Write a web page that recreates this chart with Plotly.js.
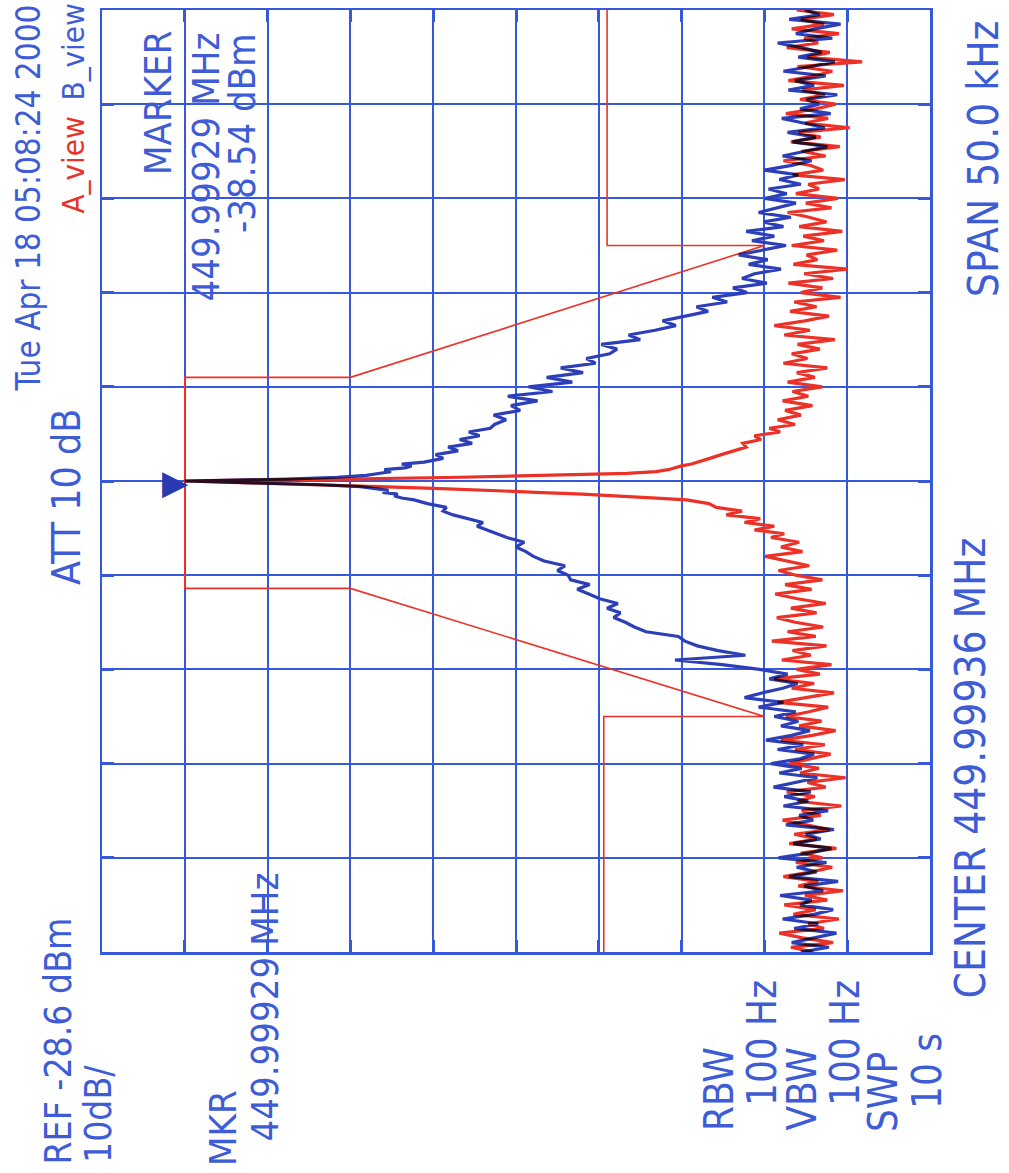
<!DOCTYPE html>
<html><head><meta charset="utf-8">
<script src="https://cdn.plot.ly/plotly-3.0.1.min.js"></script>
<style>
html,body{margin:0;padding:0;background:#fff;}
#chart{width:1009px;height:1173px;}
#chart .scatterlayer .trace:last-child path.js-line{mix-blend-mode:multiply;}
</style></head><body><div id="chart"></div>
<script>
// ---- instrument settings ----
const refLevelDbm = -28.6;
const dbPerDiv = 10;
const centerMHz = 449.99936;
const spanKHz = 50.0;
const markerFreqMHz = 449.99929;
const markerAmpDbm = -38.54;

// ---- sweep frequencies (offset from center, kHz) ----
const freqKHz = [
-25.00,-24.75,-24.50,-24.25,-24.00,-23.75,-23.50,-23.25,-23.00,-22.75,
-22.50,-22.25,-22.00,-21.75,-21.50,-21.25,-21.00,-20.75,-20.50,-20.25,
-20.00,-19.75,-19.50,-19.25,-19.00,-18.75,-18.50,-18.25,-18.00,-17.75,
-17.50,-17.25,-17.00,-16.75,-16.50,-16.25,-16.00,-15.75,-15.50,-15.25,
-15.00,-14.75,-14.50,-14.25,-14.00,-13.75,-13.50,-13.25,-13.00,-12.75,
-12.50,-12.25,-12.00,-11.75,-11.50,-11.25,-11.00,-10.75,-10.50,-10.25,
-10.00,-9.75,-9.50,-9.25,-9.00,-8.75,-8.50,-8.25,-8.00,-7.75,
-7.50,-7.25,-7.00,-6.75,-6.50,-6.25,-6.00,-5.75,-5.50,-5.25,
-5.00,-4.75,-4.50,-4.25,-4.00,-3.75,-3.50,-3.25,-3.00,
-2.8,-2.6,-2.4,-2.2,-2.0,-1.8,-1.6,-1.4,-1.2,-1.0,
-0.9,-0.8,-0.7,-0.6,-0.5,-0.4,-0.3,-0.2,-0.1,-0.05,
0,
0.05,0.1,0.2,0.3,0.4,0.5,0.6,0.7,0.8,0.9,
1.0,1.2,1.4,1.6,1.8,2.0,2.2,2.4,2.6,2.8,
3.00,3.25,3.50,3.75,4.00,4.25,4.50,4.75,5.00,5.25,
5.50,5.75,6.00,6.25,6.50,6.75,7.00,7.25,7.50,7.75,
8.00,8.25,8.50,8.75,9.00,9.25,9.50,9.75,10.00,10.25,
10.50,10.75,11.00,11.25,11.50,11.75,12.00,12.25,12.50,12.75,
13.00,13.25,13.50,13.75,14.00,14.25,14.50,14.75,15.00,15.25,
15.50,15.75,16.00,16.25,16.50,16.75,17.00,17.25,17.50,17.75,
18.00,18.25,18.50,18.75,19.00,19.25,19.50,19.75,20.00,20.25,
20.50,20.75,21.00,21.25,21.50,21.75,22.00,22.25,22.50,22.75,
23.00,23.25,23.50,23.75,24.00,24.25,24.50,24.75,25.00
];

// ---- A_view trace (red), dBm ----
const aViewDbm = [
-114.5,-111.8,-116.9,-113.2,-110.4,-115.8,-113.9,-117.6,-112.1,-114.8,
-111.0,-116.2,-113.5,-118.1,-112.7,-115.1,-110.9,-114.3,-116.8,-112.4,
-115.6,-113.0,-117.3,-111.6,-114.9,-112.2,-116.5,-113.7,-110.8,-115.4,
-113.1,-117.9,-112.6,-114.7,-111.3,-116.0,-113.8,-118.4,-112.9,-115.2,
-111.7,-114.1,-116.6,-112.3,-115.9,-110.6,-114.4,-117.2,-112.8,-115.5,
-111.2,-114.0,-116.3,-110.2,-113.6,-117.0,-111.9,-114.6,-109.8,-115.3,
-112.5,-116.7,-110.7,-114.2,-112.0,-116.1,-109.5,-114.8,-111.4,-115.7,
-112.3,-110.1,-114.9,-111.8,-116.0,-112.6,-109.9,-114.3,-111.1,-115.6,
-112.4,-110.3,-114.0,-111.5,-108.7,-113.2,-110.6,-112.8,-109.4,
-111.0,-107.4,-109.8,-106.2,-108.1,-104.0,-105.9,-102.8,-101.9,-99.2,
-95.0,-91.0,-86.6,-81.0,-76.0,-69.6,-62.0,-54.0,-46.0,-42.0,
-38.6,
-45.0,-58.0,-72.0,-84.0,-92.0,-95.5,-97.0,-97.8,-98.6,-99.8,
-100.6,-102.0,-103.4,-104.8,-106.4,-106.0,-108.2,-107.4,-110.5,-109.2,
-112.3,-110.2,-113.0,-111.1,-114.4,-110.8,-113.9,-112.0,-115.6,-111.4,
-114.7,-112.5,-116.2,-110.9,-113.8,-111.9,-115.3,-112.6,-117.1,-111.0,
-114.1,-109.8,-113.5,-116.4,-111.7,-114.9,-112.2,-117.8,-113.0,-115.6,
-111.5,-116.9,-113.4,-118.6,-112.1,-115.0,-113.7,-117.4,-111.9,-115.8,
-113.3,-118.0,-112.8,-116.1,-114.0,-111.4,-116.7,-113.6,-117.5,-112.4,
-115.2,-113.9,-118.3,-112.0,-115.7,-114.2,-110.9,-116.0,-113.1,-117.7,
-111.8,-115.4,-112.7,-118.9,-113.5,-116.3,-111.2,-114.8,-117.2,-112.9,
-115.9,-113.2,-118.2,-111.5,-114.6,-116.8,-112.6,-120.4,-113.8,-116.5,
-111.3,-115.1,-113.4,-117.6,-111.9,-115.8,-113.0,-117.0,-112.5
];

// ---- B_view trace (blue), dBm ----
const bViewDbm = [
-113.0,-116.4,-111.9,-114.8,-117.3,-112.2,-115.1,-110.8,-114.6,-116.9,
-112.9,-114.3,-110.5,-115.7,-113.4,-117.5,-111.6,-114.9,-112.5,-116.1,
-110.3,-114.0,-116.7,-112.1,-115.4,-113.6,-117.0,-111.2,-114.5,-112.8,
-116.3,-110.9,-113.9,-111.0,-114.2,-109.7,-112.6,-115.0,-110.4,-113.1,
-109.4,-112.9,-114.6,-110.2,-113.3,-108.8,-111.9,-114.1,-110.6,-112.7,
-109.8,-112.4,-107.9,-110.9,-106.2,-108.3,-110.8,-112.6,-109.2,-111.4,
-108.0,-103.5,-97.8,-106.3,-103.0,-100.5,-99.0,-98.2,-94.3,-92.9,
-91.8,-90.4,-91.2,-89.6,-90.9,-88.7,-87.4,-86.0,-87.5,-85.2,
-84.9,-83.6,-84.5,-82.0,-80.7,-79.8,-78.6,-79.6,-77.5,
-76.3,-75.0,-73.9,-74.6,-72.8,-71.0,-69.8,-70.2,-67.9,-66.3,
-64.8,-63.9,-64.3,-62.5,-63.2,-61.6,-59.8,-55.0,-48.0,-43.5,
-38.6,
-45.0,-51.0,-57.0,-60.5,-62.0,-63.5,-62.7,-65.2,-66.0,-64.8,
-67.5,-69.8,-68.9,-71.6,-70.4,-73.3,-71.8,-74.2,-72.9,-75.5,
-76.0,-77.4,-75.9,-79.1,-78.0,-81.2,-77.6,-83.0,-80.1,-85.4,
-82.3,-86.7,-84.0,-88.2,-87.1,-89.9,-90.8,-88.9,-93.6,-92.2,
-95.4,-97.9,-96.3,-99.2,-101.8,-100.4,-104.1,-102.3,-106.5,-104.8,
-108.9,-105.9,-107.4,-110.6,-106.7,-109.0,-105.5,-108.3,-111.2,-107.1,
-109.8,-106.4,-110.9,-108.5,-111.8,-107.9,-110.2,-112.4,-108.7,-111.3,
-109.1,-113.0,-110.4,-112.7,-108.6,-111.9,-114.3,-110.8,-113.5,-116.2,
-112.0,-114.8,-111.4,-115.9,-113.3,-110.7,-116.6,-112.9,-115.2,-113.7,
-117.4,-111.5,-114.6,-112.3,-116.0,-110.9,-114.2,-117.1,-112.7,-115.5,
-113.1,-110.2,-116.8,-112.4,-114.7,-117.8,-111.6,-115.3,-113.5
];

// ---- limit mask (red), kHz / dBm ----
const maskFreqKHz = [25, 12.5, 12.5, 5.5, 5.5, -5.7, -5.7, -12.5, -12.5, -25];
const maskAmpDbm  = [-89.6, -89.6, -108.6, -58.6, -38.6, -38.6, -58.6, -108.6, -89.2, -89.2];

// ---- styling ----
const GRID = '#3658dc';
const TXT = '#3d5cd6';
const RED = '#ec3228';
const BLUE = '#2c3fb8';
const FONT = '"Liberation Sans Narrow", "Arial Narrow", "DejaVu Sans Condensed", sans-serif';

const L = 102, R = 930, T = 10, B = 952;
function lbl(text, px, py, yanchor, color, size) {
  return {
    text: text, xref: 'paper', yref: 'paper',
    x: (px - L) / (R - L), y: (B - py) / (B - T),
    xanchor: 'center', yanchor: yanchor, textangle: -90,
    showarrow: false, borderpad: 0,
    font: {family: FONT, size: size || 40, color: color || TXT}
  };
}

const markerOffsetKHz = (markerFreqMHz - centerMHz) * 1000;

const traces = [
  {x: maskAmpDbm, y: maskFreqKHz, type: 'scatter', mode: 'lines',
   line: {color: RED, width: 1.6}, hoverinfo: 'skip'},
  {x: aViewDbm, y: freqKHz, type: 'scatter', mode: 'lines', name: 'A_view',
   line: {color: RED, width: 3.2}},
  {x: bViewDbm, y: freqKHz, type: 'scatter', mode: 'lines', name: 'B_view',
   line: {color: BLUE, width: 3.2}}
];

const axisCommon = {
  showgrid: true, gridcolor: GRID, gridwidth: 2,
  showline: true, linecolor: GRID, linewidth: 2.5, mirror: 'allticks',
  ticks: 'inside', ticklen: 12, tickwidth: 3, tickcolor: GRID,
  showticklabels: false, zeroline: false, fixedrange: true
};

const layout = {
  width: 1009, height: 1173,
  margin: {l: L, r: 1009 - R, t: T, b: 1173 - B, pad: 0},
  paper_bgcolor: '#ffffff', plot_bgcolor: '#ffffff',
  showlegend: false,
  xaxis: Object.assign({}, axisCommon, {
    range: [refLevelDbm, refLevelDbm - 10 * dbPerDiv],
    tick0: refLevelDbm, dtick: dbPerDiv
  }),
  yaxis: Object.assign({}, axisCommon, {
    range: [-spanKHz / 2, spanKHz / 2], tick0: 0, dtick: spanKHz / 10
  }),
  annotations: [
    lbl('REF -28.6 dBm', 58, 1166, 'bottom', TXT, 37),
    lbl('10dB/', 98, 1164, 'bottom', TXT, 37),
    lbl('MKR', 223, 1167, 'bottom', TXT, 38),
    lbl('449.99929 MHz', 264, 1143, 'bottom', TXT, 38),
    lbl('ATT 10 dB', 66, 586, 'bottom', TXT, 39),
    lbl('Tue Apr 18 05:08:24 2000', 28, 4, 'top', TXT, 33),
    lbl('B_view', 73, 3, 'top', TXT, 31),
    lbl('A_view', 73, 215, 'bottom', RED, 31),
    lbl('MARKER', 158, 30, 'top', TXT, 38),
    lbl('449.99929 MHz', 205, 32, 'top', TXT, 38),
    lbl('-38.54 dBm', 242, 32, 'top', TXT, 38),
    lbl('RBW', 719, 1132, 'bottom'),
    lbl('100 Hz', 762, 1107, 'bottom'),
    lbl('VBW', 801, 1132, 'bottom'),
    lbl('100 Hz', 845, 1107, 'bottom'),
    lbl('SWP', 883, 1133, 'bottom'),
    lbl('10 s', 927, 1110, 'bottom'),
    lbl('CENTER 449.99936 MHz', 970, 1000, 'bottom', TXT, 42),
    lbl('SPAN 50.0 kHz', 983, 20, 'top', TXT, 42),
    {text: '\u25B6', x: markerAmpDbm, y: markerOffsetKHz, xref: 'x', yref: 'y',
     xanchor: 'right', yanchor: 'middle', showarrow: false, borderpad: 0, xshift: 6,
     font: {family: 'DejaVu Sans', size: 34, color: '#2a3ab0'}}
  ]
};

Plotly.newPlot('chart', traces, layout, {displayModeBar: false, staticPlot: true});
</script></body></html>
